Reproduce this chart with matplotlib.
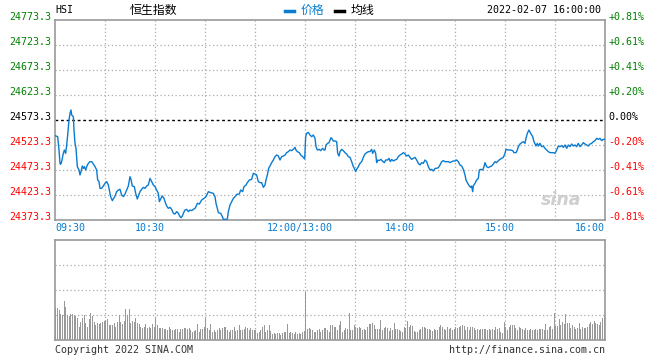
import matplotlib
matplotlib.use('Agg')
import matplotlib.pyplot as plt
import matplotlib.transforms as mtransforms
import numpy as np

# HSI intraday, 2022-02-07 (trading minutes from 09:30, lunch break removed)
minute = [
    0, 1.6, 2.4, 3, 3.4, 4, 5, 5.6, 6.4, 7, 7.6, 8.4, 9, 9.6, 10, 11, 11.4, 12, 12.6, 13.4,
    14.4, 15, 15.6, 16.4, 17, 17.6, 18.4, 19, 20, 21, 22, 23, 24, 25, 25.6, 26.4, 27, 28, 29, 30,
    31, 32, 32.6, 33.4, 34.4, 35.2, 36, 37, 38, 39, 40, 41, 42, 43, 44, 45, 45.6, 46.4, 47.6, 48.4,
    49.4, 50, 51, 52, 53, 54, 55, 56, 57, 58, 59, 60, 61, 62, 62.6, 63.6, 64.4, 65.4, 66, 67,
    68, 69, 70, 71, 72, 73, 74, 75, 75.6, 76.4, 77.2, 78, 79, 80, 81, 82, 83, 84, 84.6, 85.4,
    86.6, 88, 89.4, 90.6, 92, 93.4, 95, 96, 96.6, 97.4, 98, 99.4, 100.4, 101, 102.6, 103.4, 104, 105, 106, 107,
    108, 109, 110.6, 111.4, 112.6, 113.4, 114.6, 115.4, 116.6, 118, 119, 120, 121, 122, 123, 124, 125, 126, 126.6, 127.4,
    128.2, 129, 130, 131, 132, 133, 134, 135, 136, 137, 138, 139, 140, 141, 142, 143, 144, 144.6, 145.4, 146.6,
    147.4, 148.6, 149.8, 150.4, 151, 152, 153, 154, 155, 156, 156.6, 157.4, 158.6, 159.4, 160.6, 161.4, 162, 162.6, 163.6, 164.4,
    165.6, 166.4, 167, 168, 169, 169.6, 170.4, 171, 172, 173, 174, 175, 176, 177, 178, 179, 179.6, 180.4, 181, 182,
    183, 184, 185, 186, 187, 188, 189, 190, 190.6, 191.6, 192.4, 193, 193.6, 194.4, 195.6, 196.4, 197.6, 198.4, 199.6, 200.4,
    201.2, 202, 203, 204, 205, 206, 207, 208, 209, 210, 211, 212, 213, 214, 215, 216, 217, 218, 219, 220,
    221, 222, 223, 224, 225, 226, 227, 228, 229, 230, 231, 232, 233, 234, 235, 236, 237, 238, 239, 240,
    241, 242, 243, 244, 245, 246, 246.6, 247.4, 248.6, 249.4, 250, 250.6, 251, 252, 253, 254, 254.6, 255.4, 256.6, 257.4,
    258, 259, 260, 261, 262, 263, 264, 265, 266, 267, 268, 269, 270, 270.6, 272, 273.4, 274.6, 275.4, 276.6, 277.4,
    278, 279, 280, 281, 282, 282.6, 283.4, 284.4, 285.4, 286.6, 287.4, 288.6, 289.4, 290, 291, 292, 293, 294, 295, 296,
    297, 298, 299, 300, 301, 302, 303, 304, 305, 306, 307, 308, 309, 310, 311, 312, 313, 314, 315, 316,
    317, 318, 319, 320, 321, 322, 323, 324, 325, 326, 327, 328, 329, 330,
]
price = [
    24542.0, 24540.0, 24513.3, 24486.6, 24484.6, 24490.0, 24506.6, 24513.3, 24506.6, 24523.3,
    24543.3, 24573.3, 24586.6, 24593.3, 24583.3, 24580.0, 24553.3, 24526.6, 24516.6, 24480.0,
    24473.3, 24463.3, 24470.0, 24481.3, 24476.6, 24480.0, 24473.3, 24480.0, 24486.6, 24490.0,
    24490.0, 24485.3, 24480.0, 24473.3, 24453.3, 24450.0, 24436.6, 24436.6, 24441.3, 24446.6,
    24450.0, 24443.3, 24433.3, 24420.0, 24412.0, 24416.6, 24421.3, 24430.0, 24433.3, 24434.6,
    24423.3, 24420.0, 24425.3, 24433.3, 24441.3, 24460.0, 24454.6, 24441.3, 24440.0, 24426.6,
    24415.3, 24421.3, 24430.0, 24434.6, 24438.6, 24436.6, 24441.3, 24443.3, 24456.6, 24450.0,
    24443.3, 24440.0, 24433.3, 24426.6, 24410.0, 24416.6, 24421.3, 24416.6, 24410.0, 24401.3,
    24396.6, 24398.6, 24394.6, 24386.6, 24385.3, 24390.0, 24386.6, 24380.0, 24378.0, 24381.3,
    24388.0, 24393.3, 24394.6, 24390.0, 24393.3, 24392.0, 24394.6, 24396.6, 24400.0, 24406.6,
    24405.3, 24413.3, 24416.6, 24420.0, 24430.0, 24428.0, 24426.6, 24420.0, 24406.6, 24396.6,
    24388.0, 24386.6, 24380.0, 24374.6, 24374.6, 24375.3, 24390.0, 24403.3, 24410.0, 24416.6,
    24420.0, 24424.6, 24425.3, 24433.3, 24430.0, 24440.0, 24443.3, 24448.0, 24453.3, 24454.6,
    24466.6, 24465.3, 24463.3, 24450.0, 24448.0, 24448.0, 24438.6, 24443.3, 24453.3, 24463.3,
    24476.6, 24481.3, 24488.0, 24493.3, 24500.0, 24503.3, 24501.3, 24493.3, 24500.0, 24501.3,
    24503.3, 24508.0, 24510.0, 24513.3, 24512.0, 24514.6, 24518.6, 24513.3, 24510.0, 24508.0,
    24503.3, 24500.0, 24495.3, 24540.0, 24546.6, 24548.6, 24543.3, 24540.0, 24543.3, 24536.6,
    24520.0, 24513.3, 24514.6, 24512.0, 24516.6, 24513.3, 24513.3, 24523.3, 24526.6, 24528.0,
    24538.0, 24534.6, 24531.3, 24531.3, 24530.0, 24506.6, 24501.3, 24510.0, 24514.6, 24512.0,
    24508.0, 24505.3, 24500.0, 24498.6, 24490.0, 24480.0, 24476.6, 24470.0, 24474.6, 24480.0,
    24486.6, 24490.0, 24498.6, 24505.3, 24508.0, 24510.0, 24510.0, 24514.6, 24506.6, 24513.3,
    24506.6, 24488.0, 24493.3, 24492.0, 24494.6, 24491.3, 24488.0, 24493.3, 24493.3, 24496.6,
    24490.0, 24494.6, 24491.3, 24493.3, 24494.6, 24500.0, 24503.3, 24505.3, 24508.0, 24505.3,
    24501.3, 24503.3, 24498.6, 24494.6, 24496.6, 24498.6, 24493.3, 24486.6, 24483.3, 24488.0,
    24486.6, 24493.3, 24490.0, 24480.0, 24473.3, 24474.6, 24471.3, 24476.6, 24476.6, 24478.0,
    24483.3, 24490.0, 24492.0, 24490.0, 24490.0, 24490.0, 24488.0, 24490.0, 24491.3, 24491.3,
    24493.3, 24490.0, 24483.3, 24481.3, 24474.6, 24463.3, 24453.3, 24448.0, 24441.3, 24438.6,
    24441.3, 24430.0, 24441.3, 24446.6, 24453.3, 24456.6, 24473.3, 24474.6, 24473.3, 24480.0,
    24488.0, 24480.0, 24478.0, 24480.0, 24481.3, 24485.3, 24490.0, 24488.0, 24492.0, 24494.6,
    24496.6, 24498.6, 24506.6, 24514.6, 24513.3, 24513.3, 24512.0, 24508.0, 24508.0, 24513.3,
    24520.0, 24525.3, 24528.0, 24530.0, 24526.6, 24536.6, 24546.6, 24553.3, 24546.6, 24540.0,
    24530.0, 24521.3, 24526.6, 24521.3, 24526.6, 24520.0, 24521.3, 24516.6, 24513.3, 24510.0,
    24508.0, 24508.0, 24508.0, 24506.6, 24513.3, 24521.3, 24520.0, 24522.0, 24518.6, 24523.3,
    24516.6, 24523.3, 24520.0, 24525.3, 24521.3, 24523.3, 24520.0, 24526.6, 24520.0, 24523.3,
    24528.0, 24525.3, 24523.3, 24521.3, 24525.3, 24526.6, 24530.0, 24532.0, 24536.6, 24534.6,
    24536.6, 24532.0, 24534.6, 24534.6,
]

# per-minute volume (arbitrary units, panel top = 300)
volume = [
    95, 95, 90, 78, 75, 117, 98, 75, 72, 78, 78, 75, 72, 65, 40, 55, 65, 75, 50, 40,
    62, 80, 72, 55, 45, 52, 48, 50, 55, 58, 60, 62, 45, 45, 45, 50, 40, 55, 75, 55,
    48, 58, 93, 75, 93, 52, 58, 55, 65, 50, 48, 40, 35, 38, 48, 35, 38, 37, 48, 38,
    65, 45, 37, 37, 35, 32, 32, 30, 40, 32, 30, 30, 32, 32, 25, 32, 32, 35, 35, 32,
    35, 30, 25, 27, 30, 47, 25, 33, 33, 40, 67, 37, 30, 47, 25, 30, 25, 30, 37, 30,
    35, 38, 38, 30, 25, 30, 30, 38, 28, 30, 45, 30, 30, 32, 38, 37, 30, 35, 30, 30,
    30, 22, 25, 30, 38, 45, 25, 30, 45, 27, 18, 20, 17, 20, 20, 15, 20, 25, 25, 48,
    20, 25, 20, 18, 25, 18, 20, 18, 25, 27,
    145,
    33, 35, 32, 30, 25, 25, 30, 32, 25, 30, 35, 37, 30,
    25, 45, 45, 40, 40, 30, 45, 58, 25, 30, 35, 33, 80, 30, 30, 45, 40, 35, 40, 35,
    30, 32, 30, 40, 47, 47, 50, 45, 32, 32, 32, 60, 30, 35, 38, 35, 27, 35, 30, 50,
    32, 33, 30, 28, 25, 40, 35, 57, 40, 45, 43, 28, 25, 25, 30, 32, 40, 38, 35, 32,
    33, 30, 28, 32, 30, 30, 38, 45, 40, 32, 30, 40, 33, 35, 30, 32, 38, 37, 38, 43,
    45, 43, 30, 38, 30, 38, 40, 35, 30, 32, 30, 32, 32, 33, 33, 30, 32, 30, 32, 30,
    38, 32, 35, 25, 22, 55, 40, 30, 38, 45, 45, 45, 35, 30, 40, 35, 32, 30, 37, 30,
    30, 32, 30, 30, 32, 30, 32, 33, 32, 30, 47, 30, 40, 42, 32, 82, 42, 42, 62, 45,
    55, 48, 77, 50, 50, 35, 45, 40, 32, 37, 50, 32, 40, 37, 37, 40, 48, 55, 48, 58,
    50, 47, 45, 55, 65, 72,
]

prev_close = 24573.3
price_ticks = [24773.3, 24723.3, 24673.3, 24623.3, 24573.3, 24523.3, 24473.3, 24423.3, 24373.3]
pct_labels = ['+0.81%', '+0.61%', '+0.41%', '+0.20%', '0.00%', '-0.20%', '-0.41%', '-0.61%', '-0.81%']
time_ticks = [0, 60, 150, 210, 270, 330]
time_labels = ['09:30', '10:30', '12:00/13:00', '14:00', '15:00', '16:00']

BLUE = '#0a7bd0'
FRAME = '#999999'
GRID = '#aaaaaa'
MONO = 'DejaVu Sans Mono'
CJK = ['Noto Sans CJK SC', 'DejaVu Sans']

W, H = 660, 360
fig = plt.figure(figsize=(W / 100, H / 100), dpi=100)
fig.patch.set_facecolor('white')


def px_axes(x0, y0, x1, y1):
    return fig.add_axes([x0 / W, 1 - y1 / H, (x1 - x0) / W, (y1 - y0) / H])


def style_frame(ax):
    for s in ax.spines.values():
        s.set_color(FRAME)
        s.set_linewidth(1.2)
    ax.set_xticks([])
    ax.set_yticks([])
    ax.set_xlim(0, 330)
    for m in range(30, 330, 30):
        ax.axvline(m, color=GRID, lw=0.9, ls=(0, (1, 2)), zorder=0)


# --- price panel ---
ax = px_axes(55, 20, 605, 220)
style_frame(ax)
ax.set_ylim(price_ticks[-1], price_ticks[0])
for v in price_ticks[1:-1]:
    if v != prev_close:
        ax.axhline(v, color=GRID, lw=0.9, ls=(0, (1, 2)), zorder=0)
ax.axhline(prev_close, color='black', lw=1.0, ls=(0, (2, 2)), zorder=1)
ax.plot(minute, price, color=BLUE, lw=1.0, zorder=3)

# watermark
ax.text(0.92, 0.1, 'sina', transform=ax.transAxes, fontsize=12.5, fontweight='bold',
        fontstyle='italic', color='#cfcfcf', ha='center', va='center', zorder=2)

ylab = mtransforms.offset_copy(ax.get_yaxis_transform(), fig=fig, x=0, y=3, units='dots')
for v, pct in zip(price_ticks, pct_labels):
    if v > prev_close:
        c = '#008000'
    elif v < prev_close:
        c = '#ff0000'
    else:
        c = 'black'
    ax.text(-0.006, v, f'{v:.1f}', transform=ylab, ha='right', va='center',
            fontsize=7.2, family=MONO, color=c)
    ax.text(1.006, v, pct, transform=ylab, ha='left', va='center',
            fontsize=7.2, family=MONO, color=c)

xlab = mtransforms.offset_copy(ax.get_xaxis_transform(), fig=fig, x=-5.5, y=0, units='dots')
for m, lab in zip(time_ticks, time_labels):
    if m == time_ticks[0]:
        ax.text(m, -0.04, lab, transform=ax.get_xaxis_transform(), ha='left', va='center',
                fontsize=7.2, family=MONO, color=BLUE)
    elif m == time_ticks[-1]:
        ax.text(m, -0.04, lab, transform=ax.get_xaxis_transform(), ha='right', va='center',
                fontsize=7.2, family=MONO, color=BLUE)
    else:
        ax.text(m, -0.04, lab, transform=xlab, ha='center', va='center',
                fontsize=7.2, family=MONO, color=BLUE)

# --- volume panel ---
vax = px_axes(55, 240, 605, 340)
style_frame(vax)
vax.set_ylim(0, 300)
for v in (75, 150, 225):
    vax.axhline(v, color=GRID, lw=0.9, ls=(0, (1, 2)), zorder=0)
vx = np.linspace(0.5, 329.5, len(volume))
vax.bar(vx, volume, width=0.6, color='#999999', zorder=2)

# --- header ---
fig.text(55 / W, 1 - 10 / H, 'HSI', fontsize=7.2, family=MONO, ha='left', va='center')
fig.text(130 / W, 1 - 10 / H, '恒生指数', fontsize=8.6, family=CJK, ha='left', va='center')
fig.add_artist(plt.Line2D([285 / W, 294 / W], [1 - 11 / H] * 2, color=BLUE, lw=2.5))
fig.text(301 / W, 1 - 10 / H, '价格', fontsize=8.6, family=CJK, ha='left', va='center', color=BLUE)
fig.add_artist(plt.Line2D([335 / W, 344 / W], [1 - 11 / H] * 2, color='black', lw=2.5))
fig.text(351 / W, 1 - 10 / H, '均线', fontsize=8.6, family=CJK, ha='left', va='center')
fig.text(601 / W, 1 - 10 / H, '2022-02-07 16:00:00', fontsize=7.2, family=MONO,
         ha='right', va='center')

# --- footer ---
fig.text(55 / W, 1 - 350 / H, 'Copyright 2022 SINA.COM', fontsize=7.2, family=MONO,
         ha='left', va='center', color='#333333')
fig.text(605 / W, 1 - 350 / H, 'http://finance.sina.com.cn', fontsize=7.2, family=MONO,
         ha='right', va='center', color='#333333')

fig.savefig('out.png', dpi=100, facecolor='white')
